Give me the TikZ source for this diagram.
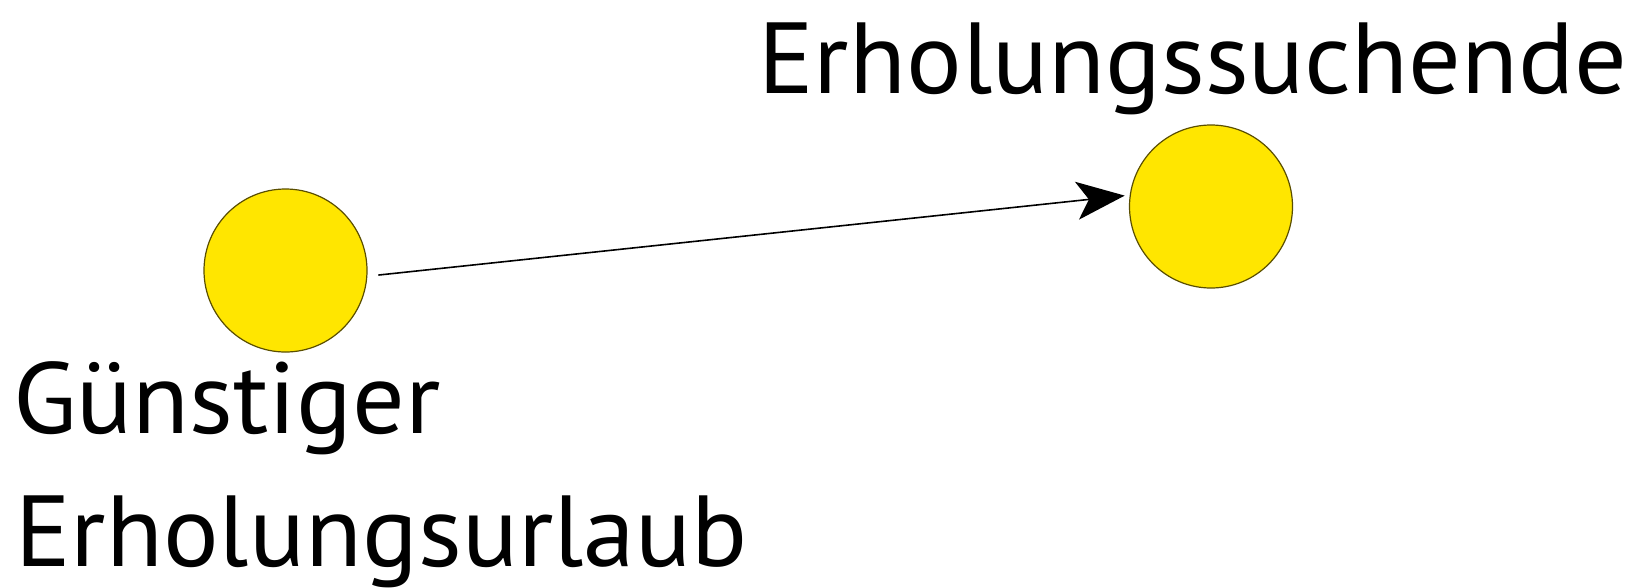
\documentclass[tikz,border=0pt]{standalone}
\usepackage{fontspec}
\setmainfont{PT Sans}[FakeStretch=1.03]
\usetikzlibrary{arrows.meta}
\definecolor{dotfill}{RGB}{255,230,0}
\definecolor{dotline}{RGB}{90,78,0}
\begin{document}
\begin{tikzpicture}[x=1pt,y=-1pt,
  dot/.style={circle,fill=dotfill,draw=dotline,line width=1.2pt,minimum size=163pt,inner sep=0pt},
  lbl/.style={inner sep=0pt,anchor=base west,font=\fontsize{101}{120}\selectfont},
  conn/.style={line width=1.6pt,-{Stealth[length=48pt,width=38pt,inset=12pt]}}]
\useasboundingbox (0,0) rectangle (1646,587);
\node[dot] (a) at (285.5,270.5) {};
\node[dot] (b) at (1211,206.5) {};
\node[lbl] (t1) at (758,93) {Erholungssuchende};
\node[lbl] (t2) at (13,433) {Günstiger};
\node[lbl] (t3) at (15,566) {Erholungsurlaub};
\draw[conn,shorten <=11pt,shorten >=5pt] (a.-4) -- (b.172);
\end{tikzpicture}
\end{document}
